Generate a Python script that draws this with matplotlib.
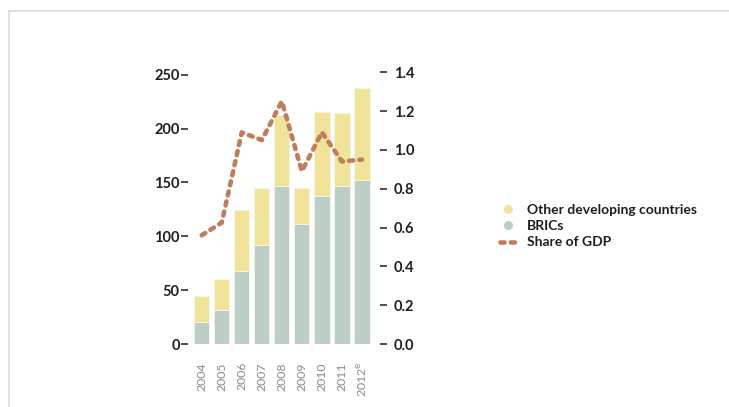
import matplotlib
matplotlib.use("Agg")
import matplotlib.pyplot as plt
from matplotlib.lines import Line2D
import numpy as np

plt.rcParams['font.family'] = ['Lato', 'DejaVu Sans']

years = ["2004", "2005", "2006", "2007", "2008", "2009", "2010", "2011", "2012$^{\\mathrm{e}}$"]
brics = [20, 32, 68, 92, 147, 111, 137, 147, 152]
total = [45, 60, 124, 145, 213, 145, 215, 214.5, 238]
other = [t - b for t, b in zip(total, brics)]
gdp_share = [0.56, 0.625, 1.09, 1.05, 1.25, 0.89, 1.09, 0.94, 0.95]

left_ticks = [0, 50, 100, 150, 200, 250]
right_ticks = [0.0, 0.2, 0.4, 0.6, 0.8, 1.0, 1.2, 1.4]

YELLOW = "#F2E39A"
GREEN = "#BDCFC4"
BROWN = "#BF7D5C"
TXT = "#1E1E1E"

W, H = 729, 407
fig = plt.figure(figsize=(W / 100, H / 100), dpi=100)

# axes box in pixel coordinates
x0, x1 = 188, 380
yb, yt = 344, 64
ax = fig.add_axes([x0 / W, (H - yb) / H, (x1 - x0) / W, (yb - yt) / H])

x = np.arange(len(years))
ax.bar(x, brics, width=0.76, color=GREEN, edgecolor="#F4F6F4", linewidth=0.6, zorder=2)
ax.bar(x, other, bottom=brics, width=0.76, color=YELLOW, edgecolor="#FBF7E6", linewidth=0.6, zorder=2)

ax.set_xlim(-0.685, 8.9)
ax.set_ylim(0, 260)
for s in ax.spines.values():
    s.set_visible(False)

ax.set_yticks(left_ticks)
ax.set_yticklabels([str(v) for v in left_ticks], fontsize=10.5, fontweight='bold', color=TXT)
ax.tick_params(axis='y', length=5, width=1.1, color=TXT, pad=1, direction='out')
ax.set_xticks(x)
ax.set_xticklabels(years, rotation=90, fontsize=8.8, color="#8A8A8A", va='top', ha='center')
ax.tick_params(axis='x', length=0, pad=13)

ax2 = ax.twinx()
ax2.set_ylim(0, 260 * 1.076 / 194)
for s in ax2.spines.values():
    s.set_visible(False)
ax2.plot(x, gdp_share, color=BROWN, lw=3.3, linestyle=(0, (0.9, 1.35)),
         dash_capstyle='round', solid_capstyle='round', zorder=3)
ax2.set_yticks(right_ticks)
ax2.set_yticklabels([f"{v:.1f}" for v in right_ticks], fontsize=10.5, fontweight='bold', color=TXT)
ax2.tick_params(axis='y', length=5, width=1.1, color=TXT, pad=5, direction='out')
ax.set_zorder(ax2.get_zorder() - 1)
ax.patch.set_visible(False)

handles = [
    Line2D([], [], marker='o', linestyle='none', markersize=5.5, color=YELLOW),
    Line2D([], [], marker='o', linestyle='none', markersize=5.5, color=GREEN),
    Line2D([], [], color=BROWN, lw=3.3, linestyle=(0, (0.9, 1.35)), dash_capstyle='round'),
]
labels = ["Other developing countries", "BRICs", "Share of GDP"]
leg = fig.legend(handles, labels, loc='upper left', bbox_to_anchor=(494 / W, 1 - 198 / H),
                 frameon=False, fontsize=10, handlelength=1.25, handletextpad=0.75,
                 labelspacing=0.32, borderaxespad=0)
for t in leg.get_texts():
    t.set_color(TXT)
    t.set_fontweight('bold')

# thin page frame
fig.add_artist(Line2D([9 / W, 1], [1 - 11 / H, 1 - 11 / H], color="#DADADA", lw=1.2))
fig.add_artist(Line2D([9 / W, 9 / W], [0, 1 - 11 / H], color="#DADADA", lw=1.2))

fig.savefig("out.png", dpi=100)
